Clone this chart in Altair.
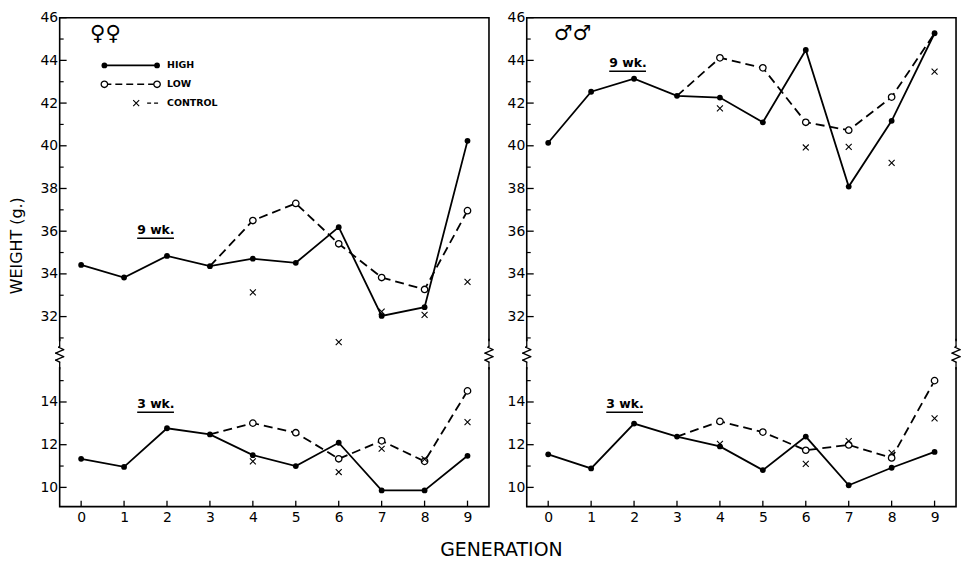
import altair as alt
import pandas as pd

# ---------------- data ----------------
generations = list(range(10))
N = None
# Females, 9 weeks
f9_high = [34.42, 33.83, 34.84, 34.36, 34.71, 34.52, 36.19, 32.03, 32.44, 40.23]
f9_low = [N, N, N, 34.36, 36.50, 37.30, 35.41, 33.83, 33.27, 36.96]
f9_ctrl = [N, N, N, N, 33.13, N, 30.80, 32.23, 32.08, 33.63]
# Females, 3 weeks
f3_high = [11.34, 10.96, 12.77, 12.48, 11.51, 11.00, 12.09, 9.86, 9.86, 11.48]
f3_low = [N, N, N, 12.48, 13.01, 12.56, 11.34, 12.18, 11.22, 14.52]
f3_ctrl = [N, N, N, N, 11.22, N, 10.72, 11.81, 11.32, 13.06]
# Males, 9 weeks
m9_high = [40.14, 42.53, 43.14, 42.34, 42.26, 41.10, 44.49, 38.09, 41.17, 45.27]
m9_low = [N, N, N, 42.34, 44.12, 43.65, 41.10, 40.73, 42.28, 45.27]
m9_ctrl = [N, N, N, N, 41.75, N, 39.92, 39.95, 39.20, 43.47]
# Males, 3 weeks
m3_high = [11.55, 10.89, 12.99, 12.38, 11.92, 10.81, 12.38, 10.10, 10.92, 11.66]
m3_low = [N, N, N, 12.38, 13.09, 12.59, 11.74, 11.99, 11.38, 15.00]
m3_ctrl = [N, N, N, N, 12.04, N, 11.10, 12.17, 11.62, 13.23]

# axis ticks (true grams)
upper_major = [32, 34, 36, 38, 40, 42, 44, 46]
upper_minor = [31, 33, 35, 37, 39, 41, 43, 45]
lower_major = [10, 12, 14]
lower_minor = [11, 13, 15]

series_labels = ["HIGH", "LOW", "CONTROL"]

# ---------------- layout constants ----------------
SHIFT = 14          # broken axis: 3-wk part is drawn shifted up by this many units
YMIN, YMAX = 23.1, 46.0
BREAK = 30.1
W, H = 432, 492
FONT = "DejaVu Sans"
BREAK_PX = H * (YMAX - BREAK) / (YMAX - YMIN) - 3

records = []


def add(panel, age, series, vals):
    for g, v in zip(generations, vals):
        if v is not None:
            records.append({"panel": panel, "age": age, "series": series, "gen": g, "w": v})


add("F", "9 wk", "HIGH", f9_high); add("F", "9 wk", "LOW", f9_low); add("F", "9 wk", "CONTROL", f9_ctrl)
add("F", "3 wk", "HIGH", f3_high); add("F", "3 wk", "LOW", f3_low); add("F", "3 wk", "CONTROL", f3_ctrl)
add("M", "9 wk", "HIGH", m9_high); add("M", "9 wk", "LOW", m9_low); add("M", "9 wk", "CONTROL", m9_ctrl)
add("M", "3 wk", "HIGH", m3_high); add("M", "3 wk", "LOW", m3_low); add("M", "3 wk", "CONTROL", m3_ctrl)
df = pd.DataFrame(records)
hi = {(r.panel, r.age, r.gen): r.w for r in df[df.series == "HIGH"].itertuples()}
df["shared"] = [
    bool(r.series == "LOW" and abs(hi.get((r.panel, r.age, r.gen), -99) - r.w) < 1e-9)
    for r in df.itertuples()
]

tick_rows = (
    [{"w": v, "age": "9 wk", "kind": "major"} for v in upper_major]
    + [{"w": v, "age": "9 wk", "kind": "minor"} for v in upper_minor]
    + [{"w": v, "age": "3 wk", "kind": "major"} for v in lower_major]
    + [{"w": v, "age": "3 wk", "kind": "minor"} for v in lower_minor]
)
ticks_df = pd.DataFrame(tick_rows)
gen_df = pd.DataFrame({"gen": generations})
ONE = pd.DataFrame({"k": [0]})

YEXPR = f"datum.age == '3 wk' ? datum.w + {SHIFT} : datum.w"
major_plot = [v + SHIFT for v in lower_major] + upper_major

xscale = alt.Scale(domain=[-0.5, 9.5], nice=False, zero=False)
yscale = alt.Scale(domain=[YMIN, YMAX], nice=False, zero=False)

CROSS = "M-1,-1L1,1M-1,1L1,-1"
# zigzag of the axis break, as offsets in px around the break point
ZIG = [(0, -15), (0, -8), (-1, -7), (4, -4.5), (-4, -1), (4, 2.5), (-4, 6), (0, 8), (0, 15)]

HI_SIZE, LO_SIZE, X_SIZE = 34, 42, 36


def deco_text(text, x, y, size, weight="bold", align="left"):
    return alt.Chart(ONE).mark_text(
        font=FONT, fontSize=size, fontWeight=weight, align=align, baseline="middle", color="black"
    ).encode(x=alt.value(x), y=alt.value(y), text=alt.value(text))


def deco_rule(x1, x2, y, dash=None, width=1.7):
    props = dict(color="black", strokeWidth=width)
    if dash:
        props["strokeDash"] = dash
    return alt.Chart(ONE).mark_rule(**props).encode(
        x=alt.value(x1), x2=alt.value(x2), y=alt.value(y)
    )


def deco_point(x, y, kind):
    if kind == "HIGH":
        m = alt.Chart(ONE).mark_point(shape="circle", filled=True, color="black", size=HI_SIZE, opacity=1)
    elif kind == "LOW":
        m = alt.Chart(ONE).mark_point(shape="circle", filled=True, fill="white", stroke="black",
                                      strokeWidth=1.3, size=LO_SIZE, opacity=1)
    else:
        m = alt.Chart(ONE).mark_point(shape=CROSS, filled=False, color="black", strokeWidth=1.1,
                                      size=X_SIZE, opacity=1)
    return m.encode(x=alt.value(x), y=alt.value(y))


def breaks(x):
    out = [alt.Chart(ONE).mark_rect(color="white").encode(
        x=alt.value(x - 3), x2=alt.value(x + 3),
        y=alt.value(BREAK_PX - 13), y2=alt.value(BREAK_PX + 13),
    )]
    for (ax, ay), (bx, by) in zip(ZIG[:-1], ZIG[1:]):
        out.append(alt.Chart(ONE).mark_rule(color="black", strokeWidth=1.3, strokeCap="round").encode(
            x=alt.value(x + ax), x2=alt.value(x + bx),
            y=alt.value(BREAK_PX + ay), y2=alt.value(BREAK_PX + by)))
    return out


def panel(code, symbol, left, wk9, wk3):
    xaxis = alt.Axis(values=generations, ticks=False, domain=False, grid=False,
                     labelFontSize=14, labelPadding=4, labelColor="black", labelFont=FONT,
                     title="GENERATION" if left else None,
                     titleFontSize=19, titleFontWeight="normal", titleFont=FONT, titleColor="black",
                     titleX=444, titleY=43, titleAlign="center", titleBaseline="middle")
    yaxis = alt.Axis(values=major_plot, labelExpr=f"datum.value < {BREAK} ? datum.value - {SHIFT} : datum.value",
                     ticks=False, domain=False, grid=False, labelFontSize=14, labelPadding=2,
                     labelColor="black", labelFont=FONT,
                     title="WEIGHT (g.)" if left else None,
                     titleFontSize=16, titleFontWeight="normal", titleFont=FONT, titleColor="black",
                     titleX=-43, titleY=229, titleAlign="center", titleBaseline="middle", titleAngle=-90)
    X = alt.X("gen:Q", scale=xscale, axis=xaxis)
    Y = alt.Y("yplot:Q", scale=yscale, axis=yaxis)

    base = alt.Chart(df[df.panel == code]).transform_calculate(yplot=YEXPR)
    line_hi = base.transform_filter("datum.series == 'HIGH'").mark_line(
        color="black", strokeWidth=1.8).encode(x=X, y=Y, detail="age:N")
    line_lo = base.transform_filter("datum.series == 'LOW'").mark_line(
        color="black", strokeWidth=1.8, strokeDash=[9, 5]).encode(x=X, y=Y, detail="age:N")
    pts_lo = base.transform_filter("datum.series == 'LOW' && !datum.shared").mark_point(
        shape="circle", filled=True, fill="white", stroke="black", strokeWidth=1.3, size=LO_SIZE,
        opacity=1).encode(x=X, y=Y)
    pts_hi = base.transform_filter("datum.series == 'HIGH'").mark_point(
        shape="circle", filled=True, color="black", size=HI_SIZE, opacity=1).encode(x=X, y=Y)
    pts_c = base.transform_filter("datum.series == 'CONTROL'").mark_point(
        shape=CROSS, filled=False, color="black", strokeWidth=1.1, size=X_SIZE, opacity=1).encode(x=X, y=Y)

    tk = alt.Chart(ticks_df).transform_calculate(yplot=YEXPR)
    ymaj = tk.transform_filter("datum.kind == 'major'").mark_rule(color="black", strokeWidth=1.3).encode(
        y=Y, x=alt.value(0), x2=alt.value(7))
    ymin = tk.transform_filter("datum.kind == 'minor'").mark_rule(color="black", strokeWidth=1.2).encode(
        y=Y, x=alt.value(0), x2=alt.value(4))
    xt = alt.Chart(gen_df).mark_rule(color="black", strokeWidth=1.3).encode(
        x=X, y=alt.value(H), y2=alt.value(H - 6))

    layers = [line_lo, line_hi, pts_lo, pts_hi, pts_c, ymaj, ymin, xt]
    layers += breaks(0) + breaks(W)
    layers.append(deco_text(symbol, 46, 16, 21, weight="normal", align="center"))
    # age labels, underlined
    for (txt, (tx, ty)) in [("9 wk.", wk9), ("3 wk.", wk3)]:
        layers.append(deco_text(txt, tx, ty, 12.5))
        layers.append(deco_rule(tx, tx + 37, ty + 8, width=1.5))
    if left:
        # hand-drawn style key
        layers += [deco_rule(45, 98, 48), deco_point(45, 48, "HIGH"), deco_point(98, 48, "HIGH"),
                   deco_text(series_labels[0], 108, 48, 9.5)]
        layers += [deco_rule(45, 98, 67, dash=[7, 4]), deco_point(45, 67, "LOW"), deco_point(98, 67, "LOW"),
                   deco_text(series_labels[1], 108, 67, 9.5)]
        layers += [deco_point(77, 86, "CONTROL"), deco_rule(88, 99, 86, dash=[4, 3], width=1.3),
                   deco_text(series_labels[2], 108, 86, 9.5)]
    return alt.layer(*layers).properties(width=W, height=H)


left = panel("F", "♀♀", True, (78, 214), (78, 389))
right = panel("M", "♂♂", False, (83, 46), (80, 389))

chart = alt.hconcat(left, right, spacing=38, bounds="flush").properties(
    padding={"left": 0, "top": 0, "right": 0, "bottom": 0},
    background="white",
).configure_view(stroke="black", strokeWidth=1.6)

chart.save("out.html", embed_options={"renderer": "svg", "actions": False})
